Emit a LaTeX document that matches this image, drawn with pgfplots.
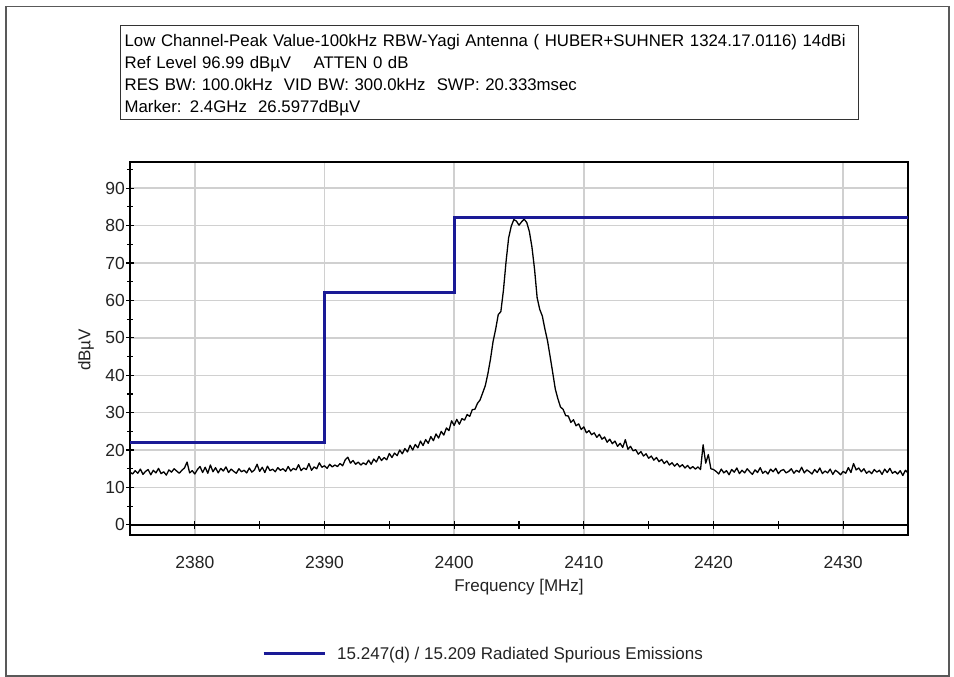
\documentclass[border=0pt]{standalone}
\usepackage{pgfplots}
\pgfplotsset{compat=1.18}
\usepackage{fontspec}
\setmainfont{Liberation Sans}
\definecolor{limitblue}{RGB}{26,26,150}
\definecolor{gridgray}{RGB}{208,208,208}
\definecolor{labelgray}{RGB}{35,35,35}

\begin{document}
\begin{tikzpicture}[x=1pt,y=1pt]
\useasboundingbox (0,0) rectangle (954,677);
% outer frame of the report page
\draw[black!65, line width=1.2pt] (6,1) rectangle (949,670.5);

% measurement settings box
\node[draw=black!80, line width=1.3pt, anchor=north west, inner xsep=4pt, inner ysep=0pt,
      text width=730pt, align=left, font=\fontsize{16.8}{22}\selectfont]
  at (120,652.2)
  {\rule{0pt}{20.8pt}Low Channel-Peak Value-100kHz RBW-Yagi Antenna ( HUBER+SUHNER 1324.17.0116) 14dBi\\
   Ref Level 96.99 dBµV\quad\ ATTEN 0 dB\\
   RES BW: 100.0kHz\ \ VID BW: 300.0kHz\ \ SWP: 20.333msec\\
   Marker: 2.4GHz\ \ 26.5977dBµV\rule[-7pt]{0pt}{7pt}};

\begin{axis}[
  at={(130pt,142pt)}, anchor=south west,
  scale only axis, width=778pt, height=373pt,
  xmin=2375, xmax=2435, ymin=-2.7, ymax=96.99,
  axis line style={black, line width=1.5pt},
  xtick={2380,2390,...,2430},
  ytick={0,10,...,90},
  minor ytick={5,15,...,95},
  xmajorgrids, ymajorgrids,
  grid style={gridgray, line width=1.4pt},
  ytick pos=left,
  tick align=center,
  tick style={black, line width=1.2pt},
  major tick length=8pt, minor tick length=6pt,
  x tick style={draw=none},
  /pgf/number format/assume math mode=true,
  /pgf/number format/1000 sep={},
  ticklabel style={font=\fontsize{17.5}{20}\selectfont, text=labelgray},
  xticklabel style={anchor=base, yshift=-30pt},
  yticklabel style={anchor=east, inner sep=0pt, xshift=-1pt},
  xlabel={Frequency [MHz]},
  ylabel={dBµV},
  label style={font=\fontsize{17}{20}\selectfont, text=labelgray},
  xlabel style={at={(axis description cs:0.5,-0.1528)}, anchor=base},
  ylabel style={at={(axis description cs:-0.0566,0.496)}, anchor=center, rotate=0},
  legend style={at={(axis description cs:0.1697,-0.319)}, anchor=west,
    draw=none, fill=none, inner sep=0pt,
    font=\fontsize{17}{20}\selectfont, text=labelgray,
    nodes={inner xsep=11pt}},
  legend image code/.code={\draw[#1] (0pt,0pt) -- (61pt,0pt);},
]

% zero line with its 5 MHz ticks
\addplot[black, line width=1.3pt, forget plot] coordinates {(2375,0) (2435,0)};
\pgfplotsinvokeforeach{2380,2385,2390,2395,2400,2405,2410,2415,2420,2425,2430}{
  \draw[black, line width=1.2pt] (axis cs:#1,-1.1) -- (axis cs:#1,1.1);
}

% measured peak trace
\addplot[black, line width=1.3pt, line join=round, forget plot] coordinates {
(2375.0,14.1) (2375.2,13.6) (2375.4,14.5) (2375.6,13.8) (2375.8,14.9) (2376.0,13.5)
(2376.2,14.3) (2376.4,14.8) (2376.6,13.4) (2376.8,14.6) (2377.0,13.9) (2377.2,15.1)
(2377.4,13.7) (2377.6,14.2) (2377.8,13.3) (2378.0,14.7) (2378.2,14.1) (2378.4,15.0)
(2378.6,14.4) (2378.8,13.8) (2379.0,14.6) (2379.2,15.2) (2379.4,16.8) (2379.6,13.9)
(2379.8,14.5) (2380.0,13.6) (2380.2,14.8) (2380.4,15.6) (2380.6,14.0) (2380.8,15.4)
(2381.0,13.8) (2381.2,16.0) (2381.4,14.2) (2381.6,15.3) (2381.8,13.9) (2382.0,15.1)
(2382.2,14.4) (2382.4,15.5) (2382.6,14.0) (2382.8,14.9) (2383.0,14.3) (2383.2,13.8)
(2383.4,15.0) (2383.6,14.2) (2383.8,14.6) (2384.0,13.9) (2384.2,15.2) (2384.4,14.1)
(2384.6,14.7) (2384.8,16.2) (2385.0,14.3) (2385.2,15.4) (2385.4,14.0) (2385.6,15.7)
(2385.8,14.5) (2386.0,14.9) (2386.2,14.2) (2386.4,15.3) (2386.6,14.6) (2386.8,15.0)
(2387.0,14.3) (2387.2,15.6) (2387.4,14.4) (2387.6,15.1) (2387.8,14.7) (2388.0,16.1)
(2388.2,14.5) (2388.4,15.2) (2388.6,14.8) (2388.8,16.4) (2389.0,14.6) (2389.2,15.5)
(2389.4,15.0) (2389.6,16.6) (2389.8,15.4) (2390.0,15.8)
(2390.2,15.1) (2390.4,16.2) (2390.6,15.5) (2390.8,16.0) (2391.0,15.6) (2391.2,16.4)
(2391.4,15.8) (2391.6,17.4) (2391.8,18.1) (2392.0,16.5) (2392.2,17.2) (2392.4,16.2)
(2392.6,16.8) (2392.8,16.0) (2393.0,16.6) (2393.2,16.1) (2393.4,17.3) (2393.6,16.2)
(2393.8,17.6) (2394.0,16.8) (2394.2,18.3) (2394.4,17.2) (2394.6,18.0) (2394.8,17.4)
(2395.0,19.1) (2395.2,18.0) (2395.4,19.2) (2395.6,18.5) (2395.8,20.0) (2396.0,19.0)
(2396.2,20.4) (2396.4,19.5) (2396.6,21.3) (2396.8,20.0) (2397.0,21.5) (2397.2,20.6)
(2397.4,22.4) (2397.6,21.2) (2397.8,22.8) (2398.0,21.8) (2398.2,23.6) (2398.4,22.5)
(2398.6,24.3) (2398.8,23.2) (2399.0,25.0) (2399.2,24.0) (2399.4,25.9) (2399.6,25.2)
(2399.8,27.8) (2400.0,26.6) (2400.2,28.2) (2400.4,26.9) (2400.6,28.4) (2400.8,28.0)
(2401.0,29.5) (2401.2,29.0) (2401.4,30.8) (2401.6,30.9) (2401.8,32.5) (2402.0,33.4)
(2402.2,35.3) (2402.4,37.2) (2402.6,40.4) (2402.8,44.3) (2403.0,49.0) (2403.2,52.3)
(2403.4,56.2) (2403.6,57.0) (2403.8,62.7) (2404.0,70.3) (2404.2,76.7) (2404.4,79.8)
(2404.6,81.6) (2404.8,81.2) (2405.0,80.1) (2405.2,81.0) (2405.4,81.7) (2405.6,80.8)
(2405.8,78.4) (2406.0,74.2) (2406.2,68.3) (2406.4,60.7) (2406.6,57.6) (2406.8,55.8)
(2407.0,52.3) (2407.2,49.2) (2407.4,45.0) (2407.6,40.7) (2407.8,36.3) (2408.0,33.7)
(2408.2,31.5) (2408.4,30.9) (2408.6,29.2) (2408.8,29.1) (2409.0,27.4) (2409.2,28.1)
(2409.4,26.5) (2409.6,27.0) (2409.8,25.5) (2410.0,26.2) (2410.2,24.6) (2410.4,25.2)
(2410.6,24.1) (2410.8,24.6) (2411.0,23.4) (2411.2,24.2) (2411.4,22.9) (2411.6,23.5)
(2411.8,22.1) (2412.0,22.9) (2412.2,21.7) (2412.4,22.4) (2412.6,21.0) (2412.8,21.8)
(2413.0,20.7) (2413.2,22.8) (2413.4,20.2) (2413.6,21.0) (2413.8,19.8) (2414.0,20.1)
(2414.2,18.9) (2414.4,19.6) (2414.6,18.4) (2414.8,19.0) (2415.0,17.8) (2415.2,18.4)
(2415.4,17.3) (2415.6,18.0) (2415.8,16.9) (2416.0,17.5) (2416.2,16.4) (2416.4,17.1)
(2416.6,16.0) (2416.8,16.6) (2417.0,15.7) (2417.2,16.4) (2417.4,15.5) (2417.6,16.1)
(2417.8,15.2) (2418.0,15.9) (2418.2,15.0) (2418.4,15.6) (2418.6,14.9) (2418.8,15.5)
(2419.0,14.8) (2419.2,21.4) (2419.4,16.5) (2419.6,18.8) (2419.8,15.0) (2420.0,14.8)
(2420.2,14.3) (2420.4,13.6) (2420.6,14.9) (2420.8,13.9) (2421.0,14.5) (2421.2,13.4)
(2421.4,14.8) (2421.6,14.1) (2421.8,15.2) (2422.0,13.7) (2422.2,14.6) (2422.4,13.9)
(2422.6,15.0) (2422.8,14.2) (2423.0,13.5) (2423.2,14.7) (2423.4,14.0) (2423.6,15.3)
(2423.8,13.8) (2424.0,14.4) (2424.2,13.6) (2424.4,14.9) (2424.6,14.2) (2424.8,15.1)
(2425.0,13.7) (2425.2,14.5) (2425.4,14.8) (2425.6,13.9) (2425.8,14.3) (2426.0,15.0)
(2426.2,13.8) (2426.4,14.6) (2426.6,14.1) (2426.8,15.4) (2427.0,13.9) (2427.2,14.7)
(2427.4,14.2) (2427.6,13.6) (2427.8,14.8) (2428.0,14.0) (2428.2,15.2) (2428.4,13.7)
(2428.6,14.4) (2428.8,13.9) (2429.0,14.9) (2429.2,13.5) (2429.4,14.6) (2429.6,14.1)
(2429.8,13.4) (2430.0,14.3) (2430.2,13.8) (2430.4,15.3) (2430.6,14.0) (2430.8,16.4)
(2431.0,14.7) (2431.2,15.2) (2431.4,14.2) (2431.6,15.0) (2431.8,13.8) (2432.0,14.4)
(2432.2,13.7) (2432.4,14.8) (2432.6,14.1) (2432.8,14.6) (2433.0,13.5) (2433.2,14.9)
(2433.4,14.0) (2433.6,15.1) (2433.8,13.8) (2434.0,14.3) (2434.2,13.6) (2434.4,14.5)
(2434.6,13.2) (2434.8,14.6) (2435.0,13.9)
};

% FCC 15.247(d) / 15.209 limit line
\addplot[limitblue, line width=3pt] coordinates {
(2375,22.1) (2390,22.1) (2390,62.2) (2400,62.2) (2400,82.2) (2435,82.2)
};
\addlegendentry{15.247(d) / 15.209 Radiated Spurious Emissions}

\end{axis}
\end{tikzpicture}
\end{document}
